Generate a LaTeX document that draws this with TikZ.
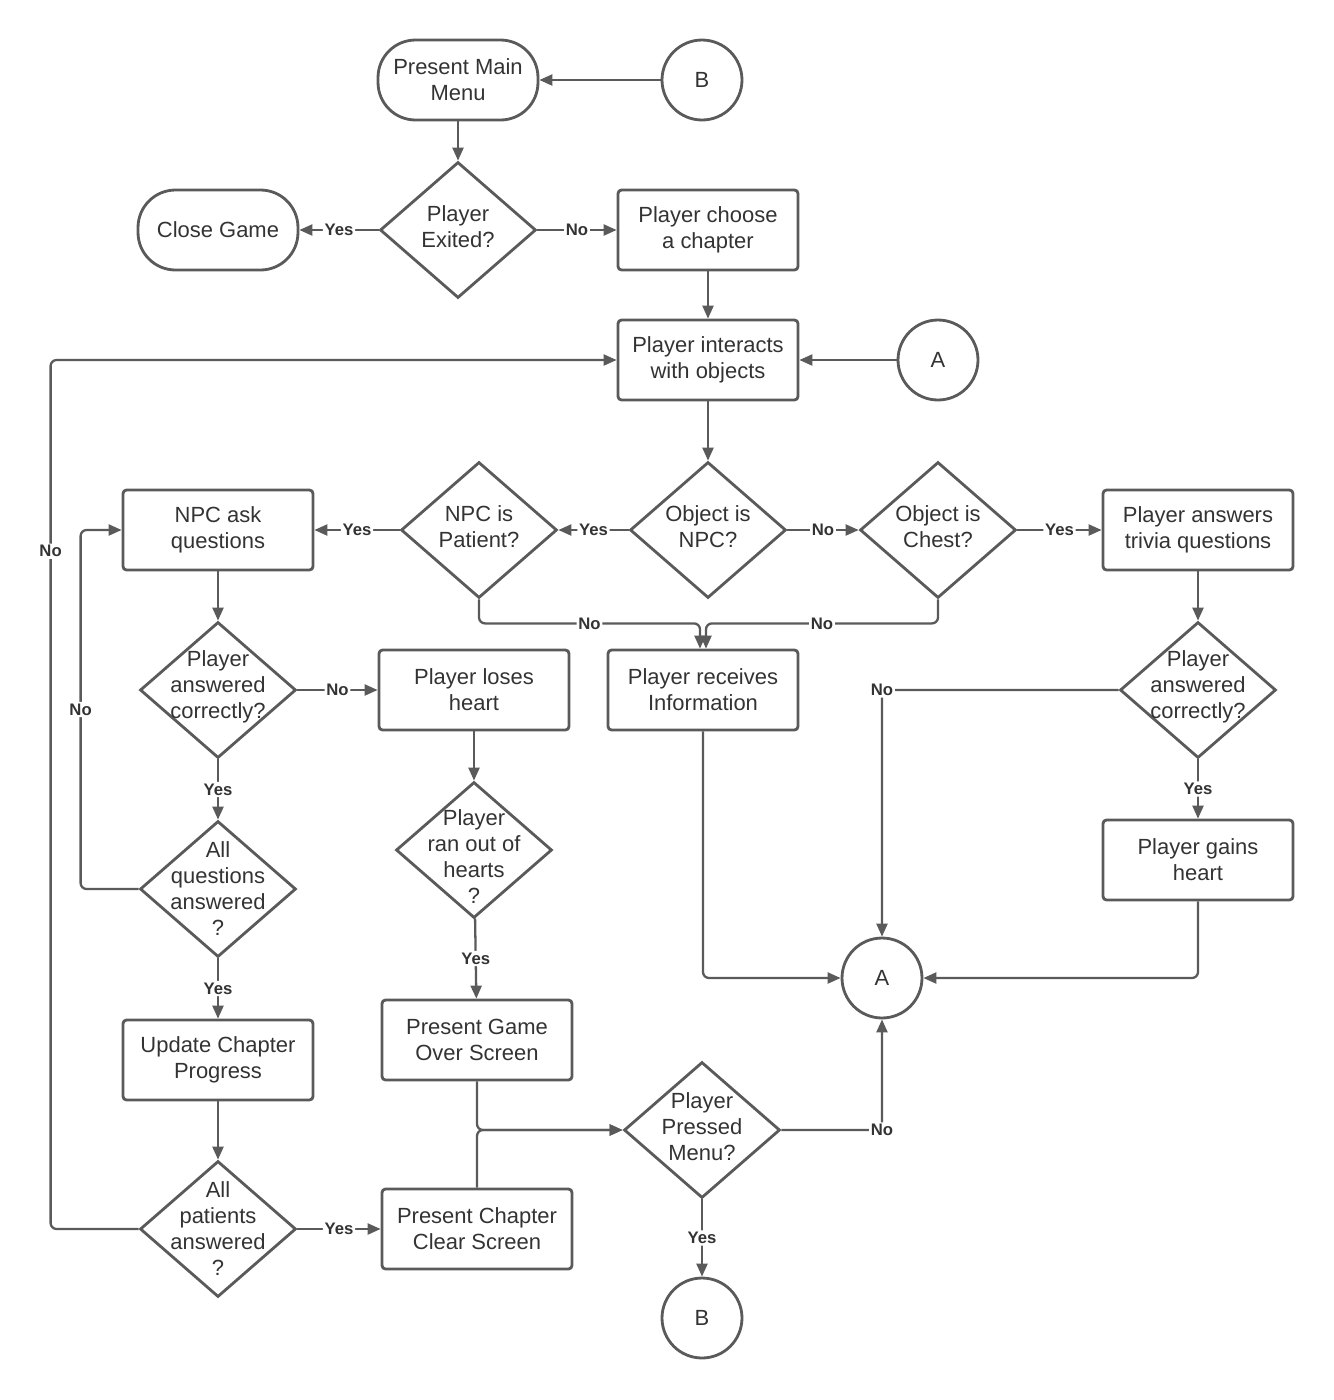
\documentclass[tikz,border=0pt]{standalone}
\usepackage{fontspec}
\setmainfont{Liberation Sans}
\usepackage{xcolor}
\usepackage{tikz}
\usetikzlibrary{positioning,arrows.meta,shapes.geometric}
\definecolor{edge}{HTML}{5A5A5A}
\definecolor{ink}{HTML}{333333}
\newcommand{\boxfont}{\fontsize{12.5}{14.8}\selectfont}

\begin{document}
\begin{tikzpicture}[
    x=0.02cm, y=-0.02cm,
    box/.style={rectangle, draw=edge, rounded corners=2pt, minimum width=3.8cm, minimum height=1.6cm,
                align=center, text=ink, font=\boxfont, line width=1.6pt},
    term/.style={box, rounded corners=0.75cm, minimum width=3.2cm},
    jump/.style={circle, draw=edge, minimum size=1.6cm, text=ink, font=\boxfont, line width=1.6pt},
    dia/.style={diamond, draw=edge, line width=1.6pt, minimum width=3.12cm, minimum height=2.72cm, inner sep=0pt},
    dtext/.style={align=center, text=ink, font=\boxfont},
    choice/.style={dia, label={[dtext, yshift=0.06cm]center:#1}},
    arrow/.style={-{Triangle[length=2.6mm, width=2.2mm]}, draw=edge, line width=1.3pt, rounded corners=1.2mm},
    tag/.style={fill=white, inner sep=1pt, text=ink, font=\fontsize{9.5}{10}\selectfont\bfseries},
]
\useasboundingbox (0,0) rectangle (1333,1400);

% Menu and chapter choice
\node[term] (menu) at (458,80) {Present Main\\Menu};
\node[jump] (btop) at (702,80) {B};
\node[choice={Player\\Exited?}] (exited) at (458,230) {};
\node[term] (close) at (218,230) {Close Game};
\node[box, minimum width=3.6cm] (choose) at (708,230) {Player choose\\a chapter};
\node[box, minimum width=3.6cm] (interact) at (708,360) {Player interacts\\with objects};
\node[jump] (atop) at (938,360) {A};

% Object checks
\node[choice={Object is\\NPC?}] (isnpc) at (708,530) {};
\node[choice={NPC is\\Patient?}] (patient) at (479,530) {};
\node[choice={Object is\\Chest?}] (chest) at (938,530) {};
\node[box] (ask) at (218,530) {NPC ask\\questions};
\node[box] (trivia) at (1198,530) {Player answers\\trivia questions};

% Answers
\node[choice={Player\\answered\\correctly?}] (rightnpc) at (218,690) {};
\node[box] (loses) at (474,690) {Player loses\\heart};
\node[box] (info) at (703,690) {Player receives\\Information};
\node[choice={Player\\answered\\correctly?}] (righttrivia) at (1198,690) {};
\node[dia, label={[dtext]center:All\\questions\\answered\\?}] (allq) at (218,889) {};
\node[dia, label={[dtext, yshift=-0.14cm]center:Player\\ran out of\\hearts\\?}] (outof) at (474,850) {};
\node[box] (gains) at (1198,860) {Player gains\\heart};
\node[jump] (abot) at (882,978) {A};

% Chapter end
\node[box] (update) at (218,1060) {Update Chapter\\Progress};
\node[box] (over) at (477,1040) {Present Game\\Over Screen};
\node[choice={Player\\Pressed\\Menu?}] (pressed) at (702,1130) {};
\node[dia, label={[dtext]center:All\\patients\\answered\\?}] (allp) at (218,1229) {};
\node[box] (clear) at (477,1229) {Present Chapter\\Clear Screen};
\node[jump] (bbot) at (702,1318) {B};

% Arrows — menu
\draw[arrow] (btop) -- (menu);
\draw[arrow] (menu) -- (exited);
\draw[arrow] (exited) -- node[tag] {Yes} (close);
\draw[arrow] (exited) -- node[tag] {No} (choose);
\draw[arrow] (choose) -- (interact);
\draw[arrow] (atop) -- (interact);
\draw[arrow] (interact) -- (isnpc);

% Arrows — object checks
\draw[arrow] (isnpc) -- node[tag] {Yes} (patient);
\draw[arrow] (isnpc) -- node[tag] {No} (chest);
\draw[arrow] (patient) -- node[tag] {Yes} (ask);
\draw[arrow] (chest) -- node[tag] {Yes} (trivia);
\draw[arrow] (patient.south) -- ++(0,24) -| node[tag, pos=0.25] {No} ([xshift=-0.06cm]info.north);
\draw[arrow] (chest.south) -- ++(0,24) -| node[tag, pos=0.25] {No} ([xshift=0.06cm]info.north);

% Arrows — NPC questions
\draw[arrow] (ask) -- (rightnpc);
\draw[arrow] (rightnpc) -- node[tag] {No} (loses);
\draw[arrow] (rightnpc) -- node[tag] {Yes} (allq);
\draw[arrow] (allq.west) -- ++(-58,0) |- node[tag, pos=0.25] {No} (ask.west);
\draw[arrow] (allq) -- node[tag] {Yes} (update);
\draw[arrow] (update) -- (allp);
\draw[arrow] (allp.west) -- ++(-88,0) |- node[tag, pos=0.39] {No} (interact.west);
\draw[arrow] (allp) -- node[tag] {Yes} (clear);
\draw[arrow] (loses) -- (outof);
\draw[arrow] (outof) -- node[tag] {Yes} (over);

% Arrows — end screens
\draw[arrow] (over.south) |- (pressed.west);
\draw[arrow] (clear.north) |- (pressed.west);
\draw[arrow] (pressed.east) -| node[tag, pos=0.5] {No} (abot.south);
\draw[arrow] (pressed) -- node[tag] {Yes} (bbot);

% Arrows — back to A
\draw[arrow] (info.south) |- (abot.west);
\draw[arrow] (gains.south) |- (abot.east);
\draw[arrow] (righttrivia.west) -| node[tag, pos=0.5] {No} (abot.north);
\draw[arrow] (trivia) -- (righttrivia);
\draw[arrow] (righttrivia) -- node[tag] {Yes} (gains);
\end{tikzpicture}
\end{document}
